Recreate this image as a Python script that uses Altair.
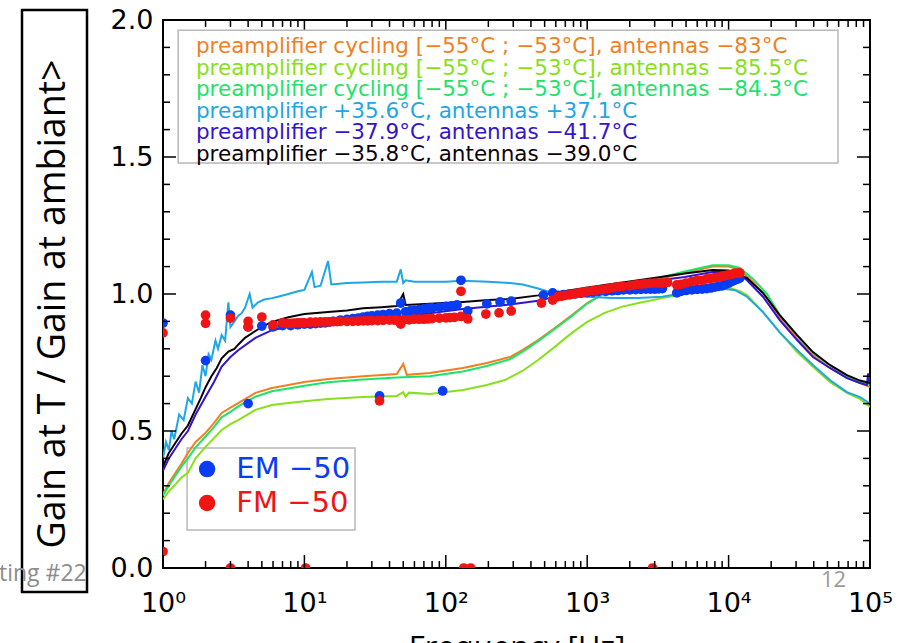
import altair as alt
import pandas as pd

W, H = 707, 548

# ---------------- line series (frequency [Hz], gain ratio) ----------------
orange_f = [1.0, 1.1, 1.2, 1.35, 1.5, 1.7, 2.0, 2.3, 2.6, 3.0, 3.4, 4.5, 5.9, 7.7, 10, 14.7, 26, 45, 50, 53, 77, 132, 195, 284, 350, 450, 590, 780, 1000, 1330, 1750, 2300, 3400, 4900, 7700, 10000, 12050, 14900, 18700, 23000, 30500, 39500, 52000, 68700, 85000, 100000]
orange_v = [0.27, 0.31, 0.34, 0.38, 0.42, 0.46, 0.493, 0.53, 0.566, 0.585, 0.602, 0.639, 0.657, 0.668, 0.679, 0.69, 0.70, 0.708, 0.745, 0.705, 0.712, 0.73, 0.748, 0.77, 0.796, 0.832, 0.876, 0.923, 0.967, 1.004, 1.026, 1.04, 1.058, 1.077, 1.10, 1.10, 1.088, 1.044, 0.985, 0.912, 0.839, 0.777, 0.73, 0.697, 0.675, 0.66]

ygreen_f = [1.0, 1.1, 1.2, 1.35, 1.5, 1.7, 2.0, 2.3, 2.6, 3.0, 3.4, 4.5, 5.9, 7.7, 10, 14.7, 26, 45, 50, 52, 55, 77, 132, 195, 262, 323, 350, 450, 590, 780, 1000, 1330, 1750, 2300, 3400, 4900, 7700, 10200, 12000, 13500, 17500, 23000, 30500, 39500, 52000, 68700, 85000, 100000]
ygreen_v = [0.25, 0.28, 0.30, 0.33, 0.347, 0.40, 0.442, 0.475, 0.504, 0.525, 0.54, 0.577, 0.595, 0.602, 0.609, 0.617, 0.624, 0.628, 0.642, 0.625, 0.64, 0.635, 0.65, 0.668, 0.686, 0.71, 0.72, 0.759, 0.807, 0.858, 0.898, 0.931, 0.953, 0.967, 0.985, 1.0, 1.018, 1.022, 1.01, 0.996, 0.934, 0.86, 0.788, 0.734, 0.679, 0.639, 0.617, 0.588]

green_f = [1.0, 1.1, 1.2, 1.35, 1.5, 1.7, 2.0, 2.3, 2.6, 3.0, 3.4, 4.5, 5.9, 7.7, 10, 14.7, 26, 45, 77, 132, 195, 284, 350, 450, 590, 780, 1000, 1330, 1750, 2300, 3400, 4900, 7700, 10000, 12000, 14900, 18700, 23000, 30500, 39500, 52000, 68700, 85000, 100000]
green_v = [0.265, 0.30, 0.33, 0.37, 0.40, 0.44, 0.48, 0.515, 0.55, 0.57, 0.59, 0.625, 0.645, 0.655, 0.665, 0.678, 0.688, 0.695, 0.70, 0.717, 0.737, 0.762, 0.79, 0.828, 0.872, 0.92, 0.965, 1.004, 1.028, 1.045, 1.062, 1.082, 1.105, 1.105, 1.095, 1.055, 1.0, 0.923, 0.85, 0.785, 0.74, 0.70, 0.68, 0.67]

cyan_f = [1.0, 1.05, 1.1, 1.15, 1.2, 1.3, 1.4, 1.5, 1.6, 1.7, 1.8, 1.9, 2.0, 2.1, 2.2, 2.35, 2.45, 2.6, 2.75, 2.9, 3.0, 3.2, 3.4, 3.6, 3.8, 4.1, 4.3, 4.7, 5.2, 5.9, 6.5, 7.7, 9, 10, 11.3, 11.8, 13, 14.7, 15.5, 20, 26, 35, 45, 48, 50, 52, 60, 80, 100, 130, 200, 284, 350, 450, 600, 800, 1000, 1500, 2300, 3400, 4900, 7000, 8700, 11000, 13500, 17500, 23000, 30500, 39500, 52000, 68700, 85000, 100000]
cyan_v = [0.40, 0.46, 0.43, 0.50, 0.47, 0.56, 0.54, 0.62, 0.60, 0.68, 0.64, 0.74, 0.70, 0.78, 0.76, 0.83, 0.80, 0.85, 0.83, 0.97, 0.88, 0.90, 0.92, 0.93, 0.95, 1.00, 0.95, 0.97, 0.98, 0.985, 0.99, 1.00, 1.01, 1.015, 1.08, 1.025, 1.03, 1.12, 1.035, 1.04, 1.042, 1.045, 1.045, 1.09, 1.04, 1.05, 1.045, 1.045, 1.045, 1.048, 1.045, 1.04, 1.035, 1.02, 1.00, 0.99, 0.99, 0.985, 0.985, 0.99, 1.005, 1.015, 1.02, 1.015, 0.99, 0.934, 0.86, 0.796, 0.741, 0.686, 0.642, 0.624, 0.60]

purple_f = [1.0, 1.1, 1.2, 1.35, 1.5, 1.7, 2.0, 2.3, 2.6, 3.0, 3.4, 4.5, 5.9, 7.7, 10, 14.7, 26, 45, 77, 132, 284, 450, 780, 1330, 2300, 4900, 7700, 10000, 12000, 13500, 17500, 23000, 30500, 39500, 52000, 68700, 85000, 95000, 97000, 100000]
purple_v = [0.355, 0.40, 0.43, 0.47, 0.50, 0.56, 0.625, 0.68, 0.735, 0.77, 0.795, 0.84, 0.868, 0.88, 0.887, 0.894, 0.905, 0.915, 0.93, 0.945, 0.962, 0.975, 1.005, 1.025, 1.04, 1.062, 1.08, 1.08, 1.07, 1.05, 0.99, 0.905, 0.832, 0.77, 0.73, 0.693, 0.675, 0.668, 0.71, 0.67]

black_f = [1.0, 1.1, 1.2, 1.35, 1.5, 1.7, 1.85, 2.0, 2.2, 2.4, 2.6, 2.9, 3.2, 3.4, 3.8, 4.5, 5.2, 5.9, 7.7, 10, 14.7, 20, 26, 35, 45, 50, 52, 77, 132, 200, 284, 450, 780, 1330, 2300, 4900, 7700, 10000, 12050, 13500, 17500, 23000, 30500, 39500, 52000, 68700, 85000, 100000]
black_v = [0.37, 0.42, 0.45, 0.49, 0.52, 0.58, 0.62, 0.66, 0.70, 0.73, 0.765, 0.79, 0.80, 0.815, 0.84, 0.865, 0.885, 0.898, 0.915, 0.927, 0.934, 0.94, 0.948, 0.952, 0.956, 1.00, 0.96, 0.964, 0.971, 0.978, 0.982, 0.995, 1.015, 1.033, 1.05, 1.075, 1.088, 1.086, 1.07, 1.058, 1.004, 0.923, 0.85, 0.788, 0.741, 0.704, 0.684, 0.675]

series_labels = [
    "preamplifier cycling [\u221255\u00b0C ; \u221253\u00b0C], antennas \u221283\u00b0C",
    "preamplifier cycling [\u221255\u00b0C ; \u221253\u00b0C], antennas \u221285.5\u00b0C",
    "preamplifier cycling [\u221255\u00b0C ; \u221253\u00b0C], antennas \u221284.3\u00b0C",
    "preamplifier +35.6\u00b0C, antennas +37.1\u00b0C",
    "preamplifier \u221237.9\u00b0C, antennas \u221241.7\u00b0C",
    "preamplifier \u221235.8\u00b0C, antennas \u221239.0\u00b0C",
]
series_colors = ["#f27f1f", "#88e01a", "#1ee36a", "#1ea6e6", "#3414cc", "#0c0008"]
series_data = [(orange_f, orange_v), (ygreen_f, ygreen_v), (green_f, green_v),
               (cyan_f, cyan_v), (purple_f, purple_v), (black_f, black_v)]

# ---------------- measured points ----------------
em_f = [1.0, 2.0, 3.0, 4.0, 4.0, 5.0, 6.0, 7, 8, 9, 10, 11, 12, 13, 14, 15, 16, 18, 20, 22, 24, 26, 28, 30, 33, 34, 36, 40, 45, 48, 52, 56, 60, 65, 70, 75, 80, 90, 95, 100, 110, 120, 128, 143, 195, 242, 290, 490, 570, 620, 680, 750, 820, 900, 1000, 1100, 1200, 1350, 1500, 1650, 1800, 2000, 2200, 2400, 2600, 2800, 3000, 3200, 3400, 4300, 4600, 5000, 5500, 6000, 6500, 7000, 7500, 8000, 8500, 9000, 9500, 10000, 10500, 11000, 11500, 12000]
em_v = [0.894, 0.757, 0.923, 0.60, 0.88, 0.883, 0.88, 0.885, 0.885, 0.888, 0.89, 0.89, 0.892, 0.894, 0.895, 0.898, 0.90, 0.905, 0.907, 0.91, 0.912, 0.916, 0.918, 0.92, 0.923, 0.628, 0.925, 0.928, 0.93, 0.967, 0.935, 0.938, 0.94, 0.943, 0.946, 0.948, 0.949, 0.952, 0.646, 0.955, 0.957, 0.96, 1.05, 0.938, 0.964, 0.971, 0.974, 0.996, 1.004, 0.995, 0.998, 1.0, 1.0, 1.003, 1.005, 1.007, 1.01, 1.01, 1.012, 1.013, 1.015, 1.015, 1.016, 1.017, 1.018, 1.018, 1.018, 1.019, 1.02, 1.004, 1.01, 1.013, 1.015, 1.017, 1.018, 1.02, 1.022, 1.025, 1.028, 1.03, 1.035, 1.04, 1.045, 1.05, 1.054, 1.058]

fm_f = [1.0, 1.0, 2.0, 2.0, 3.0, 3.0, 4.0, 4.0, 5.0, 6.0, 7, 7.5, 8, 8.5, 9, 9.5, 10, 10.2, 11, 12, 13, 14, 15, 16, 17, 18, 20, 22, 24, 26, 28, 30, 33, 34, 36, 40, 43, 45, 48, 50, 55, 60, 65, 70, 75, 80, 90, 100, 107, 115, 128, 128, 134, 143, 150, 192, 238, 290, 475, 570, 620, 660, 700, 750, 800, 850, 900, 950, 1000, 1100, 1200, 1300, 1400, 1500, 1600, 1700, 1800, 2000, 2150, 2300, 2450, 2600, 2800, 2900, 3000, 3200, 3400, 3700, 4300, 4600, 5000, 5500, 6000, 6500, 7000, 7500, 8000, 8500, 9000, 9500, 10000, 10500, 11000, 11500, 12000]
fm_v = [0.858, 0.06, 0.923, 0.893, 0.912, 0.0, 0.90, 0.88, 0.916, 0.887, 0.895, 0.893, 0.893, 0.894, 0.895, 0.895, 0.895, 0.0, 0.897, 0.897, 0.898, 0.898, 0.898, 0.899, 0.899, 0.90, 0.90, 0.90, 0.901, 0.902, 0.902, 0.903, 0.903, 0.61, 0.904, 0.905, 0.905, 0.905, 0.89, 0.906, 0.906, 0.908, 0.908, 0.908, 0.909, 0.91, 0.912, 0.913, 0.914, 0.915, 1.01, 0.918, 0.0, 0.909, 0.0, 0.927, 0.931, 0.938, 0.967, 0.978, 0.99, 0.992, 0.995, 0.997, 1.0, 1.003, 1.005, 1.007, 1.01, 1.012, 1.015, 1.017, 1.02, 1.022, 1.025, 1.027, 1.028, 1.03, 1.032, 1.035, 1.036, 1.038, 1.039, 0.0, 1.04, 1.04, 1.04, 1.042, 1.033, 1.035, 1.04, 1.045, 1.05, 1.05, 1.055, 1.057, 1.06, 1.062, 1.065, 1.067, 1.07, 1.072, 1.075, 1.076, 1.077]

point_labels = ["EM  \u221250", "FM  \u221250"]
point_colors = ["#0a3cf2", "#f01414"]

# axis tick values
x_major = [1, 10, 100, 1000, 10000, 100000]
x_minor = [m * d for d in [1, 10, 100, 1000, 10000] for m in range(2, 10)]
y_major = [0.0, 0.5, 1.0, 1.5, 2.0]
y_minor = [round(i * 0.1, 1) for i in range(21) if i % 5 != 0]

AX_FONT = "DejaVu Sans"
xs = alt.Scale(type="log", domain=[1, 100000], nice=False)
ys = alt.Scale(domain=[0, 2], nice=False, zero=False)

x_lab_axis = alt.Axis(orient="bottom", values=x_major, ticks=False, tickSize=0, domain=False, grid=False,
                      labelFlush=False,
                      labelExpr="'10' + ['\u2070','\u00b9','\u00b2','\u00b3','\u2074','\u2075'][round(log(datum.value)/LN10)]",
                      labelFont=AX_FONT, labelFontSize=27, labelColor="black", labelPadding=22,
                      title="Frequency [Hz]", titleFont="Open Sans", titleFontSize=31, titleFontWeight="normal",
                      titleColor="black", titlePadding=17)
y_lab_axis = alt.Axis(orient="left", values=y_major, ticks=False, tickSize=0, domain=False, grid=False, format=".1f",
                      labelFont=AX_FONT, labelFontSize=27, labelColor="black", labelPadding=10, title=None)

layers = []

# EM / FM legend box (drawn under the curves); carries the labelled axes
box2 = pd.DataFrame({"x": [1.48], "x2": [22.8], "y": [0.139], "y2": [0.438]})
layers.append(alt.Chart(box2).mark_rect(fill="white", stroke="#b8b8b8", strokeWidth=1.5).encode(
    x=alt.X("x:Q", scale=xs, axis=x_lab_axis), x2="x2:Q",
    y=alt.Y("y:Q", scale=ys, axis=y_lab_axis), y2="y2:Q",
))

# curves
for (fs, vs), lab, col in zip(series_data, series_labels, series_colors):
    df = pd.DataFrame({"f": fs, "v": vs, "s": lab})
    layers.append(alt.Chart(df).mark_line(color=col, strokeWidth=2, clip=True).encode(
        x=alt.X("f:Q", scale=xs, axis=None),
        y=alt.Y("v:Q", scale=ys, axis=None),
    ))

# measured points
em_df = pd.DataFrame({"f": em_f, "v": em_v})
fm_df = pd.DataFrame({"f": fm_f, "v": fm_v})
for df, col in [(em_df, point_colors[0]), (fm_df, point_colors[1])]:
    layers.append(alt.Chart(df).mark_circle(color=col, opacity=1, size=95, clip=True).encode(
        x=alt.X("f:Q", scale=xs, axis=None),
        y=alt.Y("v:Q", scale=ys, axis=None),
    ))

# inward ticks on all four sides
for vals, ln in [(x_major, 13), (x_minor, 7)]:
    tdf = pd.DataFrame({"t": vals})
    layers.append(alt.Chart(tdf).mark_rule(color="black", strokeWidth=1.5).encode(
        x=alt.X("t:Q", scale=xs, axis=None), y=alt.value(H), y2=alt.value(H - ln)))
    layers.append(alt.Chart(tdf).mark_rule(color="black", strokeWidth=1.5).encode(
        x=alt.X("t:Q", scale=xs, axis=None), y=alt.value(0), y2=alt.value(ln)))
for vals, ln in [(y_major, 13), (y_minor, 7)]:
    tdf = pd.DataFrame({"t": vals})
    layers.append(alt.Chart(tdf).mark_rule(color="black", strokeWidth=1.5).encode(
        y=alt.Y("t:Q", scale=ys, axis=None), x=alt.value(0), x2=alt.value(ln)))
    layers.append(alt.Chart(tdf).mark_rule(color="black", strokeWidth=1.5).encode(
        y=alt.Y("t:Q", scale=ys, axis=None), x=alt.value(W), x2=alt.value(W - ln)))

# series legend (box + coloured text)
box1 = pd.DataFrame({"x": [1.28], "x2": [59400], "y": [1.478], "y2": [1.963]})
layers.append(alt.Chart(box1).mark_rect(fill="white", stroke="#b8b8b8", strokeWidth=1.5).encode(
    x=alt.X("x:Q", scale=xs, axis=None), x2="x2:Q",
    y=alt.Y("y:Q", scale=ys, axis=None), y2="y2:Q",
))
leg_df = pd.DataFrame({"t": series_labels, "c": series_colors,
                       "x": [1.71] * 6, "y": [1.901 - 0.0784 * i for i in range(6)]})
layers.append(alt.Chart(leg_df).mark_text(align="left", baseline="middle", font=AX_FONT, fontSize=21.5).encode(
    x=alt.X("x:Q", scale=xs, axis=None), y=alt.Y("y:Q", scale=ys, axis=None),
    text="t:N", color=alt.Color("c:N", scale=None),
))

# EM / FM legend entries
pl_df = pd.DataFrame({"t": point_labels, "c": point_colors, "xm": [2.05, 2.05], "xt": [3.3, 3.3], "y": [0.361, 0.237]})
layers.append(alt.Chart(pl_df).mark_circle(opacity=1, size=270).encode(
    x=alt.X("xm:Q", scale=xs, axis=None), y=alt.Y("y:Q", scale=ys, axis=None),
    color=alt.Color("c:N", scale=None),
))
layers.append(alt.Chart(pl_df).mark_text(align="left", baseline="middle", font=AX_FONT, fontSize=29).encode(
    x=alt.X("xt:Q", scale=xs, axis=None), y=alt.Y("y:Q", scale=ys, axis=None),
    text="t:N", color=alt.Color("c:N", scale=None),
))

# boxed y title (slide annotation)
one = pd.DataFrame({"t": ["Gain at T / Gain at ambiant>"]})
layers.append(alt.Chart(one).mark_rect(fill="transparent", stroke="black", strokeWidth=2.5).encode(
    x=alt.value(-141), x2=alt.value(-76), y=alt.value(-10), y2=alt.value(572)))
layers.append(alt.Chart(one).mark_text(angle=270, font="Open Sans", fontSize=37.5, color="black",
                                       baseline="middle", align="center").encode(
    x=alt.value(-109), y=alt.value(284), text="t:N"))

# slide footer fragments
foot = pd.DataFrame({"t": ["ting #22", "12"]})
layers.append(alt.Chart(foot.iloc[[0]]).mark_text(font="Open Sans", fontSize=23, color="#8c8c8c",
                                                  align="left", baseline="alphabetic").encode(
    x=alt.value(-164), y=alt.value(561), text="t:N"))
layers.append(alt.Chart(foot.iloc[[1]]).mark_text(font="Open Sans", fontSize=22, color="#9a9a9a",
                                                  align="left", baseline="alphabetic").encode(
    x=alt.value(658), y=alt.value(567), text="t:N"))

chart = alt.layer(*layers).resolve_axis(x="independent", y="independent").properties(
    width=W, height=H,
    autosize=alt.AutoSizeParams(type="none"),
    padding={"left": 163, "top": 20, "right": 40, "bottom": 75},
    background="white",
).configure_view(stroke="black", strokeWidth=2)

chart.save("out.html", embed_options={"renderer": "svg", "actions": False})
